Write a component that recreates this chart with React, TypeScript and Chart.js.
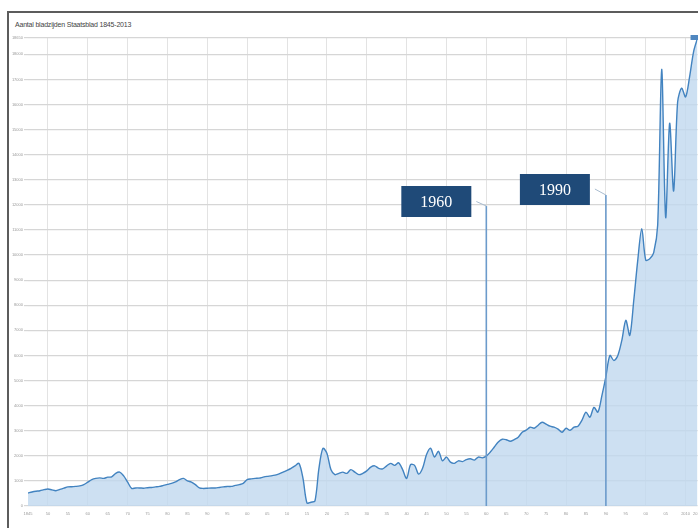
import React, { useEffect, useRef } from "react";
import { Chart, registerables } from "chart.js";
Chart.register(...registerables);

const TITLE = "Aantal bladzijden Staatsblad 1845-2013";

const years: number[] = [
  1845, 1846, 1847, 1848, 1849,
  1850, 1851, 1852, 1853, 1854, 1855, 1856, 1857, 1858, 1859,
  1860, 1861, 1862, 1863, 1864, 1865, 1866, 1867, 1868, 1869,
  1870, 1871, 1872, 1873, 1874, 1875, 1876, 1877, 1878, 1879,
  1880, 1881, 1882, 1883, 1884, 1885, 1886, 1887, 1888, 1889,
  1890, 1891, 1892, 1893, 1894, 1895, 1896, 1897, 1898, 1899,
  1900, 1901, 1902, 1903, 1904, 1905, 1906, 1907, 1908, 1909,
  1910, 1911, 1912, 1913, 1914, 1915, 1916, 1917, 1918, 1919,
  1920, 1921, 1922, 1923, 1924, 1925, 1926, 1927, 1928, 1929,
  1930, 1931, 1932, 1933, 1934, 1935, 1936, 1937, 1938, 1939,
  1940, 1941, 1942, 1943, 1944, 1945, 1946, 1947, 1948, 1949,
  1950, 1951, 1952, 1953, 1954, 1955, 1956, 1957, 1958, 1959,
  1960, 1961, 1962, 1963, 1964, 1965, 1966, 1967, 1968, 1969,
  1970, 1971, 1972, 1973, 1974, 1975, 1976, 1977, 1978, 1979,
  1980, 1981, 1982, 1983, 1984, 1985, 1986, 1987, 1988, 1989,
  1990, 1991, 1992, 1993, 1994, 1995, 1996, 1997, 1998, 1999,
  2000, 2001, 2002, 2003, 2004, 2005, 2006, 2007, 2008, 2009,
  2010, 2011, 2012, 2013,
];

const pages: number[] = [
  520, 560, 590, 610, 650,
  680, 640, 610, 660, 710, 760, 770, 780, 800, 850,
  950, 1050, 1100, 1120, 1100, 1150, 1160, 1300, 1350, 1200,
  950, 700, 720, 720, 710, 730, 740, 760, 780, 820,
  860, 900, 960, 1050, 1100, 1000, 950, 850, 720, 700,
  710, 720, 720, 740, 760, 780, 780, 820, 850, 900,
  1050, 1080, 1100, 1110, 1150, 1180, 1200, 1230, 1280, 1350,
  1420, 1500, 1600, 1700, 1100, 120, 150, 200, 1500, 2300,
  2100, 1450, 1250, 1300, 1350, 1300, 1450, 1350, 1250, 1300,
  1400, 1550, 1600, 1500, 1480, 1600, 1700, 1620, 1720, 1450,
  1100, 1650, 1620, 1270, 1500, 2050, 2300, 1950, 2180, 1800,
  1950, 1750, 1700, 1800, 1770, 1850, 1880, 1830, 1950, 1920,
  1990, 2150, 2350, 2550, 2660, 2640, 2580, 2650, 2740, 2940,
  3020, 3140, 3100, 3220, 3340, 3260, 3180, 3140, 3060, 2940,
  3100, 3020, 3140, 3180, 3420, 3740, 3540, 3930, 3740, 4400,
  5160, 6000, 5800, 6000, 6600, 7400, 6800, 8200, 9800, 11050,
  9800, 9850, 10100, 11200, 17400, 11500, 15250, 12550, 16100, 16650,
  16300, 17100, 18100, 18650,
];

const xTickYears: number[] = [
  1845, 1850, 1855, 1860, 1865, 1870, 1875, 1880, 1885, 1890, 1895,
  1900, 1905, 1910, 1915, 1920, 1925, 1930, 1935, 1940, 1945, 1950,
  1955, 1960, 1965, 1970, 1975, 1980, 1985, 1990, 1995, 2000, 2005,
  2010, 2013,
];

const yTickValues: number[] = [
  0, 1000, 2000, 3000, 4000, 5000, 6000, 7000, 8000, 9000, 10000,
  11000, 12000, 13000, 14000, 15000, 16000, 17000, 18000, 18650,
];
const Y_MAX = 18650;

const markerYears: number[] = [1960, 1990];
const markerLabels: string[] = ["1960", "1990"];

// styling of annotation boxes (offsets relative to the marker line)
const markerStyle = [
  { boxRightGap: 15, boxTop: 173, lineTop: 193, connFromY: 188.5 },
  { boxRightGap: 16, boxTop: 161, lineTop: 182, connFromY: 176 },
];

const annotationPlugin = {
  id: "yearMarkers",
  afterDatasetsDraw(chart: any) {
    const { ctx, chartArea, scales } = chart;
    ctx.save();
    markerYears.forEach((yr, i) => {
      const st = markerStyle[i];
      const x = scales.x.getPixelForValue(yr);
      ctx.strokeStyle = "#6c9bcb";
      ctx.lineWidth = 1.6;
      ctx.beginPath();
      ctx.moveTo(x, st.lineTop);
      ctx.lineTo(x, chartArea.bottom);
      ctx.stroke();
      const boxRight = x - st.boxRightGap;
      ctx.strokeStyle = "#a9bccf";
      ctx.lineWidth = 1;
      ctx.beginPath();
      ctx.moveTo(boxRight + 5, st.connFromY);
      ctx.lineTo(x, st.lineTop);
      ctx.stroke();
      const w = 70;
      const h = 31;
      ctx.fillStyle = "#1f4a78";
      ctx.fillRect(boxRight - w, st.boxTop, w, h);
      ctx.fillStyle = "#ffffff";
      ctx.font = "16px 'Liberation Serif', 'DejaVu Serif', serif";
      ctx.textAlign = "center";
      ctx.textBaseline = "middle";
      ctx.fillText(markerLabels[i], boxRight - w / 2, st.boxTop + h / 2 + 1);
    });
    const lastX = scales.x.getPixelForValue(years[years.length - 1]);
    const lastY = scales.y.getPixelForValue(pages[pages.length - 1]);
    ctx.fillStyle = "#4f87c0";
    ctx.fillRect(lastX - 7, lastY - 3, 9, 5);
    ctx.restore();
  },
};

export default function App() {
  const canvasRef = useRef<HTMLCanvasElement | null>(null);

  useEffect(() => {
    if (!canvasRef.current) return;
    const chart = new Chart(canvasRef.current, {
      type: "line",
      data: {
        datasets: [
          {
            data: years.map((y, i) => ({ x: y, y: pages[i] })),
            borderColor: "#4283c0",
            borderWidth: 1.4,
            backgroundColor: "rgba(192,216,239,0.8)",
            fill: "origin",
            pointRadius: 0,
            tension: 0.3,
          },
        ],
      },
      options: {
        responsive: false,
        animation: false,
        layout: {
          autoPadding: false,
          padding: { left: 0, right: 0, top: 25, bottom: 0 },
        },
        plugins: {
          legend: { display: false },
          tooltip: { enabled: false },
          title: { display: false },
        },
        scales: {
          x: {
            type: "linear",
            min: 1845,
            max: 2013,
            afterBuildTicks: (s: any) => {
              s.ticks = xTickYears.map((v) => ({ value: v }));
            },
            afterFit: (s: any) => {
              s.height = 22;
            },
            border: { display: false },
            grid: {
              color: (c: any) =>
                c.tick && c.tick.value % 10 === 0 ? "#e3e3e3" : "rgba(0,0,0,0)",
              lineWidth: 1,
              drawTicks: true,
              tickLength: 5,
              tickColor: "rgba(0,0,0,0)",
            },
            ticks: {
              autoSkip: false,
              maxRotation: 0,
              padding: 0,
              color: "#9a9a9a",
              font: { size: 4, family: "Liberation Sans" },
              callback: (v: any) => {
                const n = Number(v);
                if (n === 1845 || n === 2010 || n === 2013) return String(n);
                return String(n).slice(2);
              },
            },
          },
          y: {
            type: "linear",
            min: 0,
            max: Y_MAX,
            afterBuildTicks: (s: any) => {
              s.ticks = yTickValues.map((v) => ({ value: v }));
            },
            afterFit: (s: any) => {
              s.width = 19;
            },
            border: { display: false },
            grid: {
              color: "#d6d6d6",
              lineWidth: 1.2,
              tickLength: 4,
            },
            ticks: {
              padding: 1,
              color: "#9a9a9a",
              font: { size: 4, family: "Liberation Sans" },
              callback: (v: any) => String(v),
            },
          },
        },
      },
      plugins: [annotationPlugin],
    });
    return () => chart.destroy();
  }, []);

  return (
    <div
      style={{
        position: "fixed",
        left: 0,
        top: 0,
        width: 698,
        height: 528,
        background: "#ffffff",
        overflow: "hidden",
      }}
    >
      <div
        style={{
          position: "absolute",
          left: 7,
          top: 11,
          right: 0,
          bottom: 0,
          borderTop: "2px solid #5c5c5c",
          borderLeft: "2px solid #5c5c5c",
        }}
      />
      <div
        style={{
          position: "absolute",
          left: 15,
          top: 20,
          fontFamily: "'Liberation Sans', Arial, sans-serif",
          fontSize: 7,
          color: "#444",
          letterSpacing: -0.2,
          whiteSpace: "nowrap",
          lineHeight: "9px",
        }}
      >
        {TITLE}
      </div>
      <canvas
        ref={canvasRef}
        width={693}
        height={515}
        style={{ position: "absolute", left: 9, top: 13, width: 693, height: 515 }}
      />
    </div>
  );
}
